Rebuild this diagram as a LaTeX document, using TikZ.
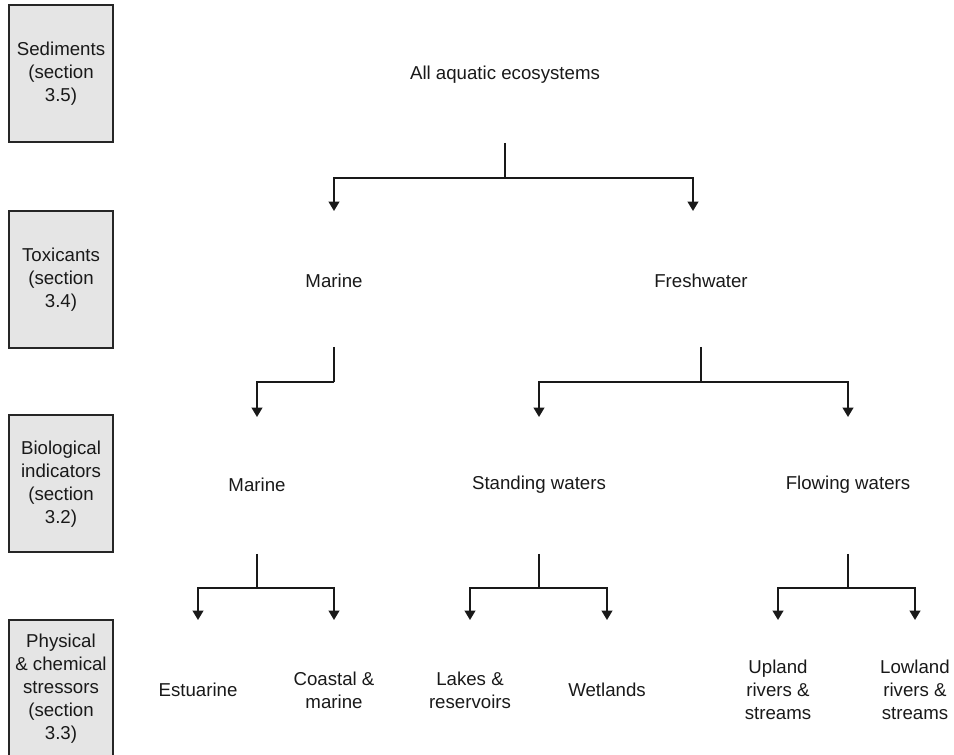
\documentclass[tikz,border=0pt]{standalone}
\usepackage{fontspec}
\setmainfont{Liberation Sans}
\usetikzlibrary{arrows.meta}
\begin{document}
\begin{tikzpicture}[x=0.75pt,y=-0.75pt,
  lbl/.style={font=\fontsize{14}{17.25}\selectfont, align=center, inner sep=0pt, text=black!90},
  sidebox/.style={lbl, draw=black!85, line width=1.5pt, fill=black!10, minimum width=78pt, minimum height=102.75pt},
  link/.style={line width=1.4pt, draw=black!90},
  arr/.style={link, -{Triangle[width=8pt,length=7pt]}}]
\clip (0,0) rectangle (954,755);
% side boxes
\node[sidebox] (sed) at (61,73.5) {Sediments\\(section\\3.5)};
\node[sidebox] (tox) at (61,280) {Toxicants\\(section\\3.4)};
\node[sidebox] (bio) at (61,484) {Biological\\indicators\\(section\\3.2)};
\node[sidebox] (phy) at (61,688.5) {Physical\\\& chemical\\stressors\\(section\\3.3)};
% tree labels
\node[lbl] (all) at (505,75) {All aquatic ecosystems};
\node[lbl] (mar1) at (334,281) {Marine};
\node[lbl] (fresh) at (701,281) {Freshwater};
\node[lbl] (mar2) at (257,485) {Marine};
\node[lbl] (stand) at (539,485) {Standing waters};
\node[lbl] (flow) at (848,485) {Flowing waters};
\node[lbl] (est) at (198,690) {Estuarine};
\node[lbl] (coast) at (334,690) {Coastal \&\\marine};
\node[lbl] (lakes) at (470,690) {Lakes \&\\reservoirs};
\node[lbl] (wet) at (607,690) {Wetlands};
\node[lbl] (up) at (778,690) {Upland\\rivers \&\\streams};
\node[lbl] (low) at (915,690) {Lowland\\rivers \&\\streams};
% junction coordinates
\coordinate (j0a) at (505,143); \coordinate (j0b) at (505,178);
\coordinate (t1a) at (334,211); \coordinate (t1b) at (693,211);
\coordinate (j1a) at (334,347); \coordinate (j1b) at (334,382);
\coordinate (t2a) at (257,417);
\coordinate (j2a) at (701,347); \coordinate (j2b) at (701,382);
\coordinate (t2b) at (539,417); \coordinate (t2c) at (848,417);
\coordinate (j3a) at (257,554); \coordinate (j3b) at (257,588);
\coordinate (t3a) at (198,620); \coordinate (t3b) at (334,620);
\coordinate (j4a) at (539,554); \coordinate (j4b) at (539,588);
\coordinate (t3c) at (470,620); \coordinate (t3d) at (607,620);
\coordinate (j5a) at (848,554); \coordinate (j5b) at (848,588);
\coordinate (t3e) at (778,620); \coordinate (t3f) at (915,620);
% connectors
\draw[link] (j0a) -- (j0b);
\draw[arr] (j0b) -| (t1a);
\draw[arr] (j0b) -| (t1b);
\draw[link] (j1a) -- (j1b);
\draw[arr] (j1b) -| (t2a);
\draw[link] (j2a) -- (j2b);
\draw[arr] (j2b) -| (t2b);
\draw[arr] (j2b) -| (t2c);
\draw[link] (j3a) -- (j3b);
\draw[arr] (j3b) -| (t3a);
\draw[arr] (j3b) -| (t3b);
\draw[link] (j4a) -- (j4b);
\draw[arr] (j4b) -| (t3c);
\draw[arr] (j4b) -| (t3d);
\draw[link] (j5a) -- (j5b);
\draw[arr] (j5b) -| (t3e);
\draw[arr] (j5b) -| (t3f);
\end{tikzpicture}
\end{document}
